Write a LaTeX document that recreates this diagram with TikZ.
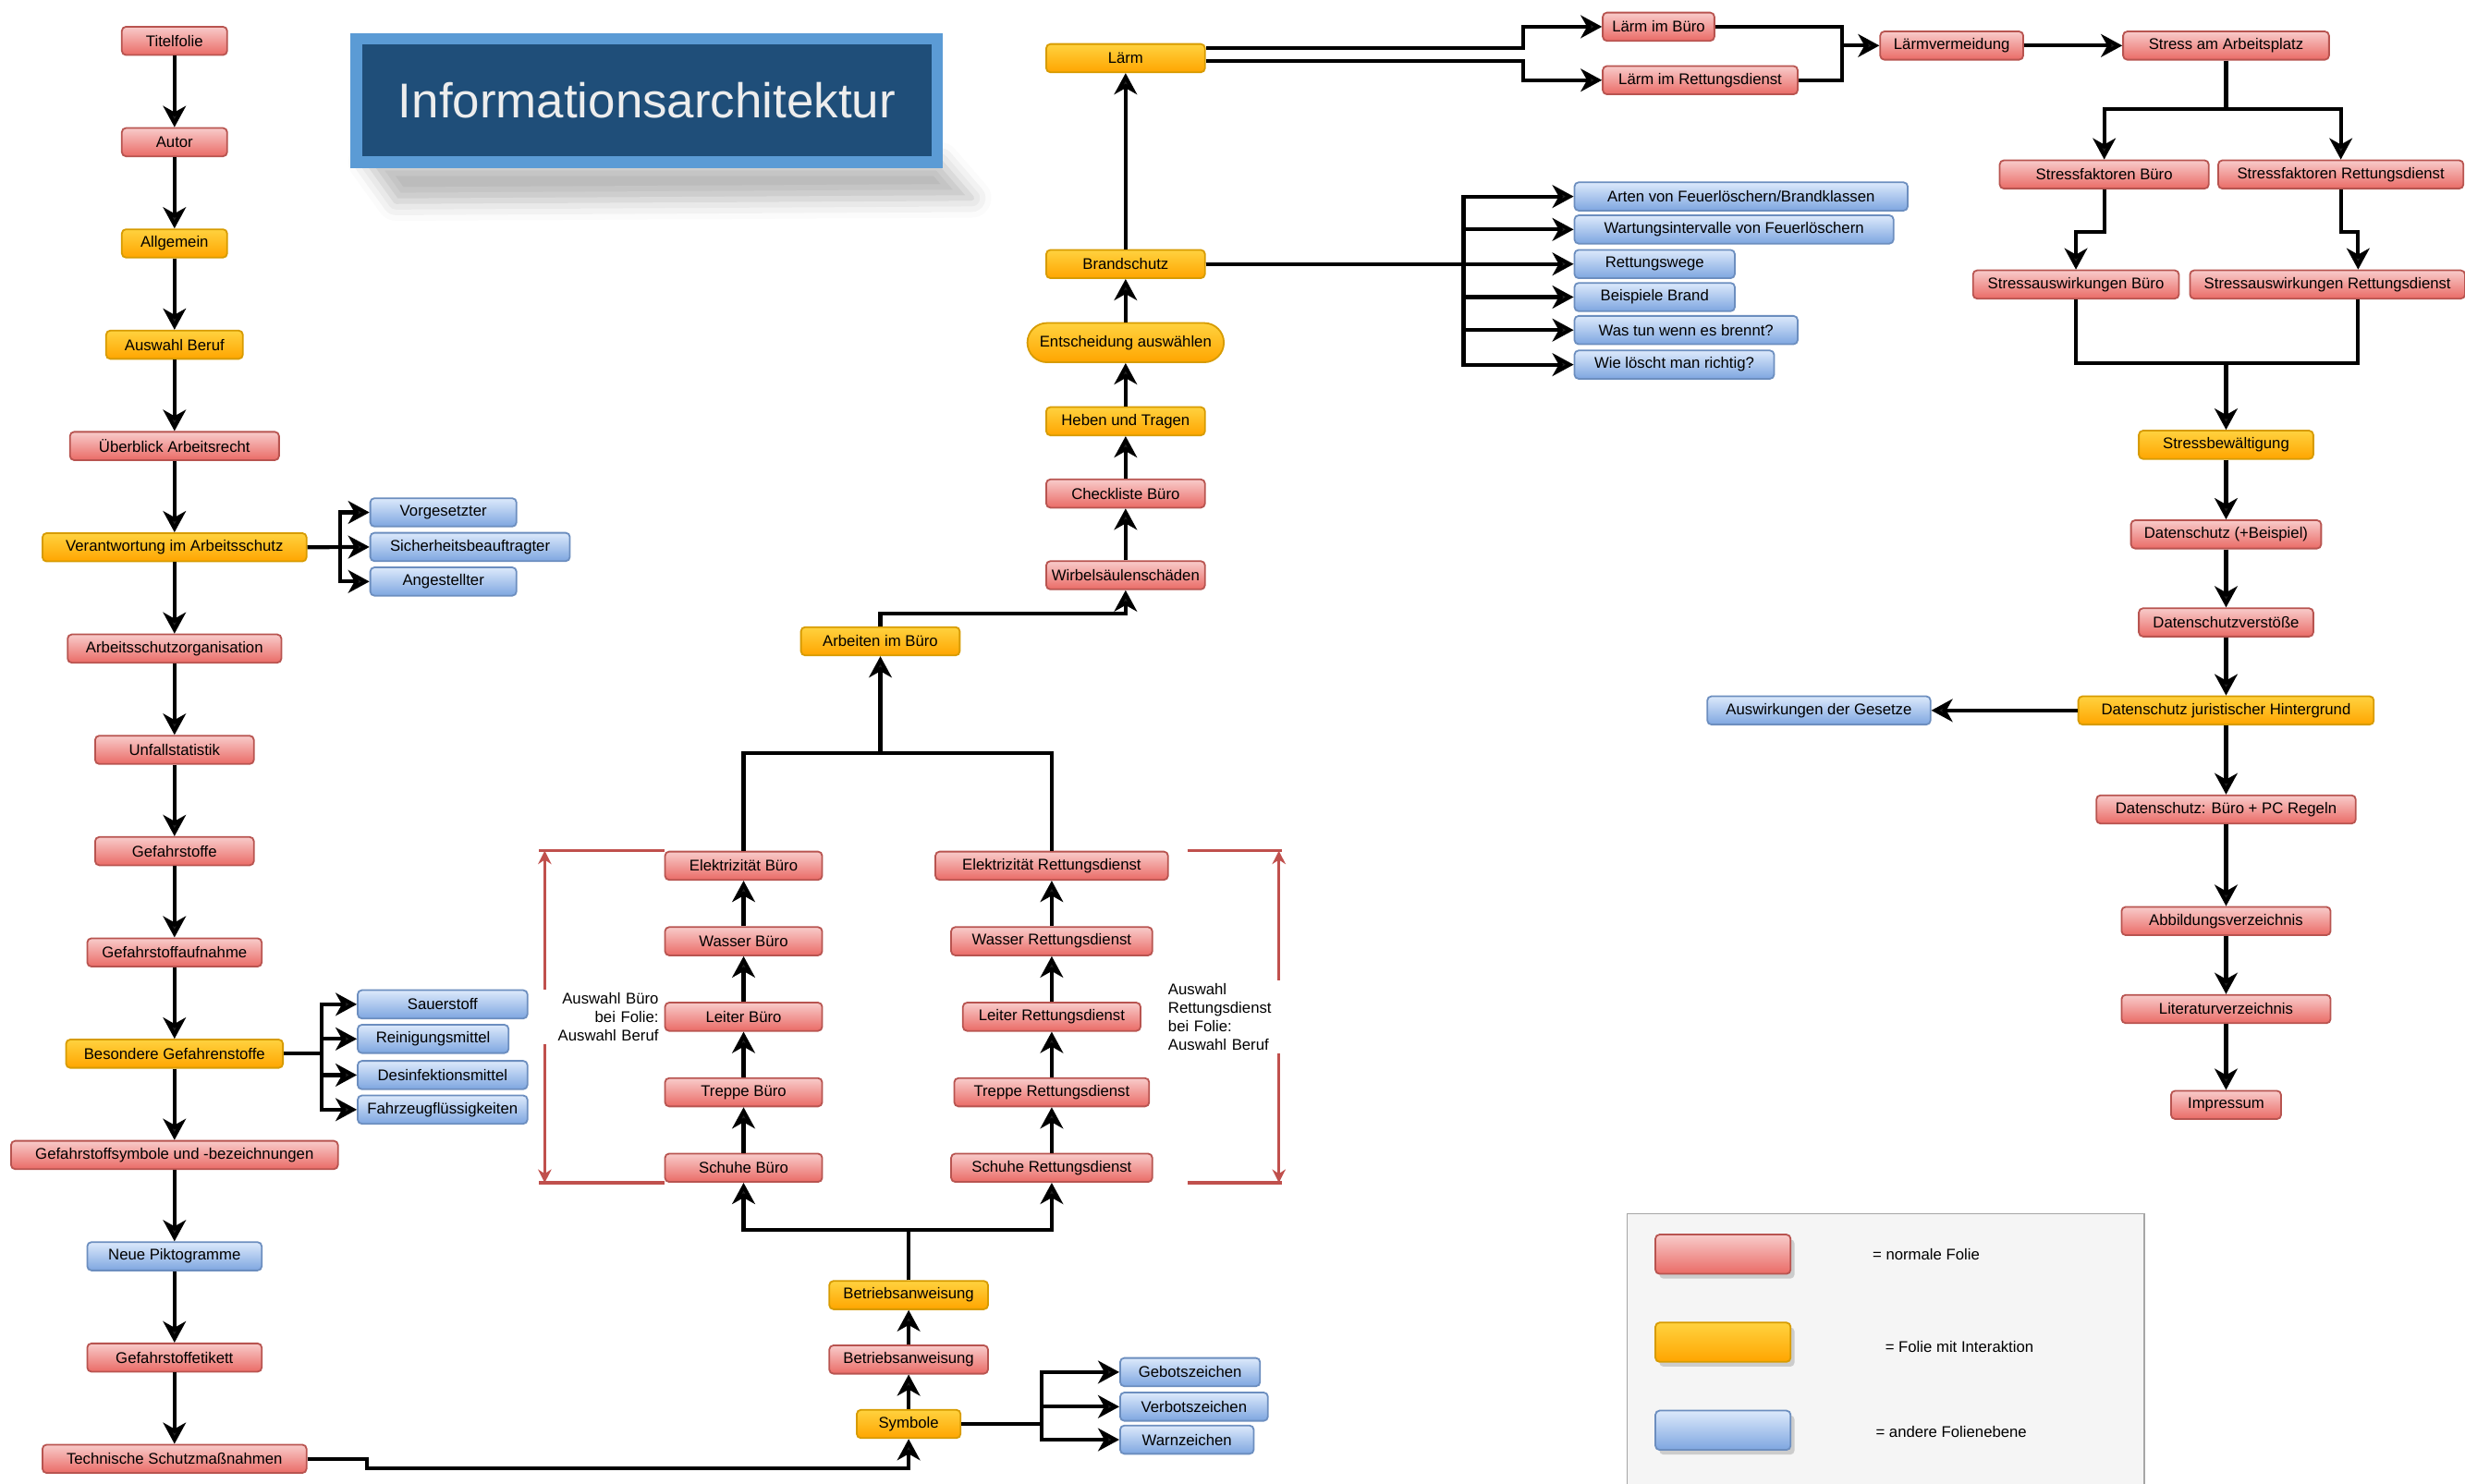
\documentclass[tikz,border=0pt]{standalone}
\usepackage{fontspec}
\setmainfont{Liberation Sans}
\usetikzlibrary{arrows.meta, positioning, shadows, shadows.blur}

\definecolor{rotrand}{HTML}{B85450}
\definecolor{rothell}{HTML}{F8CBCA}
\definecolor{rotdunkel}{HTML}{EA6B66}
\definecolor{gelbrand}{HTML}{D79B00}
\definecolor{gelbhell}{HTML}{FFD23F}
\definecolor{gelbdunkel}{HTML}{FFA500}
\definecolor{blaurand}{HTML}{6C8EBF}
\definecolor{blauhell}{HTML}{DCE9FB}
\definecolor{blaudunkel}{HTML}{7EA6E0}
\definecolor{klammerrot}{HTML}{C0504D}
\definecolor{titelrand}{HTML}{5B9BD5}
\definecolor{titelblau}{HTML}{1F4E79}

\tikzset{
  kasten/.style={rounded corners=1.5pt, minimum height=0.36cm, inner sep=0.5pt, line width=0.6pt, text=black},
  folie/.style={kasten, draw=rotrand, top color=rothell, bottom color=rotdunkel},
  interaktion/.style={kasten, draw=gelbrand, top color=gelbhell, bottom color=gelbdunkel},
  ebene/.style={kasten, draw=blaurand, top color=blauhell, bottom color=blaudunkel},
  pfeil/.style={line width=1.4pt, -{Stealth[length=0.27cm, width=0.29cm, inset=0.08cm]}},
  linie/.style={line width=1.4pt},
  klammer/.style={draw=klammerrot, line width=1.1pt},
  notiz/.style={fill=white, inner sep=1pt}
}

\begin{document}
\begin{tikzpicture}[x=0.02cm, y=-0.02cm, font=\fontsize{5.6}{6.8}\selectfont]
  \useasboundingbox (0,0) rectangle (1568,944);
  % Titel
  \path[blur shadow={shadow xshift=0pt, shadow yshift=0pt, shadow blur radius=0.25cm, shadow opacity=28}]
    (234,103) -- (598,103) -- (618,126) -- (252,128) -- cycle;
  \node[draw=titelrand,
    line width=0.15cm,
    fill=titelblau,
    minimum width=7.39cm,
    minimum height=1.57cm,
    text=white!93!black,
    font=\fontsize{17.7}{20}\selectfont] (titel) at (411.5,64) {Informationsarchitektur};

  % Linke Spalte
  \node[folie, minimum width=1.34cm] (titelf) at (111,26) {Titelfolie};
  \node[folie, below=0.908cm of titelf, minimum width=1.34cm] (autor) {Autor};
  \node[interaktion, below=0.908cm of autor, minimum width=1.34cm] (allg) {Allgemein};
  \node[interaktion, below=0.908cm of allg, minimum width=1.74cm] (beruf) {Auswahl Beruf};
  \node[folie, below=0.908cm of beruf, minimum width=2.66cm] (ueberbl) {Überblick Arbeitsrecht};
  \node[interaktion, below=0.908cm of ueberbl, minimum width=3.36cm] (verantw) {Verantwortung im Arbeitsschutz};
  \node[folie, below=0.908cm of verantw, minimum width=2.72cm] (organis) {Arbeitsschutzorganisation};
  \node[folie, below=0.908cm of organis, minimum width=2.02cm] (unfall) {Unfallstatistik};
  \node[folie, below=0.908cm of unfall, minimum width=2.02cm] (gefstoffe) {Gefahrstoffe};
  \node[folie, below=0.908cm of gefstoffe, minimum width=2.22cm] (aufnahme) {Gefahrstoffaufnahme};
  \node[interaktion, below=0.908cm of aufnahme, minimum width=2.76cm] (besond) {Besondere Gefahrenstoffe};
  \node[folie, below=0.908cm of besond, minimum width=4.16cm] (symbbez) {Gefahrstoffsymbole und -bezeichnungen};
  \node[ebene, below=0.908cm of symbbez, minimum width=2.22cm] (pikto) {Neue Piktogramme};
  \node[folie, below=0.908cm of pikto, minimum width=2.22cm] (etikett) {Gefahrstoffetikett};
  \node[folie, below=0.908cm of etikett, minimum width=3.36cm] (technik) {Technische Schutzmaßnahmen};

  \node[ebene, anchor=west, minimum width=1.86cm] (vorges) at (235,326) {Vorgesetzter};
  \node[ebene, anchor=west, minimum width=2.54cm] (sicher) at (235,348) {Sicherheitsbeauftragter};
  \node[ebene, anchor=west, minimum width=1.86cm] (angest) at (235,370) {Angestellter};

  \node[ebene, anchor=west, minimum width=2.16cm] (sauer) at (227,639) {Sauerstoff};
  \node[ebene, anchor=west, minimum width=1.92cm] (reinig) at (227,661) {Reinigungsmittel};
  \node[ebene, anchor=west, minimum width=2.16cm] (desinf) at (227,684) {Desinfektionsmittel};
  \node[ebene, anchor=west, minimum width=2.16cm] (fahrz) at (227,706) {Fahrzeugflüssigkeiten};

  % Mitte unten
  \node[interaktion, minimum width=1.32cm] (symbole) at (578,906) {Symbole};
  \node[folie, minimum width=2.02cm] (betrieb1) at (578,865) {Betriebsanweisung};
  \node[interaktion, minimum width=2.02cm] (betrieb2) at (578,824) {Betriebsanweisung};
  \node[ebene, anchor=west, minimum width=1.78cm] (geboten) at (712,873) {Gebotszeichen};
  \node[ebene, anchor=west, minimum width=1.88cm] (verboten) at (712,895) {Verbotszeichen};
  \node[ebene, anchor=west, minimum width=1.70cm] (warn) at (712,916) {Warnzeichen};

  \node[folie, minimum width=2cm] (schuheb) at (473,743) {Schuhe Büro};
  \node[folie, above=0.58cm of schuheb, minimum width=2cm] (treppeb) {Treppe Büro};
  \node[folie, above=0.58cm of treppeb, minimum width=2cm] (leiterb) {Leiter Büro};
  \node[folie, above=0.58cm of leiterb, minimum width=2cm] (wasserb) {Wasser Büro};
  \node[folie, above=0.58cm of wasserb, minimum width=2cm] (elekb) {Elektrizität Büro};

  \node[folie, minimum width=2.56cm] (schuher) at (669,743) {Schuhe Rettungsdienst};
  \node[folie, above=0.58cm of schuher, minimum width=2.48cm] (treppr) {Treppe Rettungsdienst};
  \node[folie, above=0.58cm of treppr, minimum width=2.26cm] (leiterr) {Leiter Rettungsdienst};
  \node[folie, above=0.58cm of leiterr, minimum width=2.56cm] (wasserr) {Wasser Rettungsdienst};
  \node[folie, above=0.58cm of wasserr, minimum width=2.96cm] (elekr) {Elektrizität Rettungsdienst};

  % Mitte oben
  \node[interaktion, minimum width=2.02cm] (arbeiten) at (560,408) {Arbeiten im Büro};
  \node[folie, minimum width=2.02cm] (wirbel) at (716,366) {Wirbelsäulenschäden};
  \node[folie, minimum width=2.02cm] (check) at (716,314) {Checkliste Büro};
  \node[interaktion, minimum width=2.02cm] (heben) at (716,268) {Heben und Tragen};
  \node[interaktion, minimum width=2.5cm, minimum height=0.5cm, rounded corners=0.25cm] (entsch) at (716,218) {Entscheidung auswählen};
  \node[interaktion, minimum width=2.02cm] (brand) at (716,168) {Brandschutz};
  \node[interaktion, minimum width=2.02cm] (laerm) at (716,37) {Lärm};

  \node[ebene, anchor=west, minimum width=4.24cm] (arten) at (1001,125) {Arten von Feuerlöschern/Brandklassen};
  \node[ebene, anchor=west, minimum width=4.06cm] (wartung) at (1001,146) {Wartungsintervalle von Feuerlöschern};
  \node[ebene, anchor=west, minimum width=2.04cm] (wege) at (1001,168) {Rettungswege};
  \node[ebene, anchor=west, minimum width=2.04cm] (beisp) at (1001,189) {Beispiele Brand};
  \node[ebene, anchor=west, minimum width=2.84cm] (wastun) at (1001,210) {Was tun wenn es brennt?};
  \node[ebene, anchor=west, minimum width=2.54cm] (loeschen) at (1001,232) {Wie löscht man richtig?};

  % Rechte Seite
  \node[folie, anchor=west, minimum width=1.42cm] (lbuero) at (1019,17) {Lärm im Büro};
  \node[folie, anchor=west, minimum width=2.48cm] (lrett) at (1019,51) {Lärm im Rettungsdienst};
  \node[folie, minimum width=1.82cm] (lverm) at (1241.5,29) {Lärmvermeidung};
  \node[folie, minimum width=2.62cm] (stress) at (1416,29) {Stress am Arbeitsplatz};
  \node[folie, minimum width=2.66cm] (sfb) at (1338.5,111) {Stressfaktoren Büro};
  \node[folie, minimum width=3.12cm] (sfr) at (1489,111) {Stressfaktoren Rettungsdienst};
  \node[folie, minimum width=2.62cm] (sab) at (1320.5,181) {Stressauswirkungen Büro};
  \node[folie, minimum width=3.5cm] (sar) at (1480.5,181) {Stressauswirkungen Rettungsdienst};

  \node[interaktion, minimum width=2.22cm] (bewaelt) at (1416,283) {Stressbewältigung};
  \node[folie, minimum width=2.42cm] (dsbsp) at (1416,340) {Datenschutz (+Beispiel)};
  \node[folie, minimum width=2.22cm] (dsverst) at (1416,396) {Datenschutzverstöße};
  \node[interaktion, minimum width=3.76cm] (dsjur) at (1416,452) {Datenschutz juristischer Hintergrund};
  \node[ebene, minimum width=2.84cm] (gesetze) at (1157,452) {Auswirkungen der Gesetze};
  \node[folie, minimum width=3.3cm] (dsregeln) at (1416,515) {Datenschutz: Büro + PC Regeln};
  \node[folie, minimum width=2.66cm] (abb) at (1416,586) {Abbildungsverzeichnis};
  \node[folie, minimum width=2.66cm] (lit) at (1416,642) {Literaturverzeichnis};
  \node[folie, minimum width=1.4cm] (impr) at (1416,703) {Impressum};

  % Legende
  \draw[draw=gray!70, fill=gray!8] (1035,944) |- (1364,772) -- (1364,944);
  \node[folie, minimum width=1.72cm, minimum height=0.5cm, drop shadow={shadow xshift=0.05cm, shadow yshift=-0.06cm, opacity=0.35}] (musterrot) at (1096,798) {};
  \node[interaktion, minimum width=1.72cm, minimum height=0.5cm, drop shadow={shadow xshift=0.05cm, shadow yshift=-0.06cm, opacity=0.35}] (mustergelb) at (1096,854) {};
  \node[ebene, minimum width=1.72cm, minimum height=0.5cm, drop shadow={shadow xshift=0.05cm, shadow yshift=-0.06cm, opacity=0.35}] (musterblau) at (1096,910) {};
  \node[anchor=west] (textrot) at (1185,798) {= normale Folie};
  \node[anchor=west] (textgelb) at (1193,857) {= Folie mit Interaktion};
  \node[anchor=west] (textblau) at (1187,911) {= andere Folienebene};

  % Pfeile
  \draw[pfeil]
    (titelf) edge (autor)
    (autor) edge (allg)
    (allg) edge (beruf)
    (beruf) edge (ueberbl)
    (ueberbl) edge (verantw)
    (verantw) edge (organis)
    (organis) edge (unfall)
    (unfall) edge (gefstoffe)
    (gefstoffe) edge (aufnahme)
    (aufnahme) edge (besond)
    (besond) edge (symbbez)
    (symbbez) edge (pikto)
    (pikto) edge (etikett)
    (etikett) edge (technik);
  \draw[pfeil] (verantw.east) -- ++(21,0) |- (vorges.west);
  \draw[pfeil] (verantw.east) -- (sicher.west);
  \draw[pfeil] (verantw.east) -- ++(21,0) |- (angest.west);
  \draw[pfeil] (besond.east) -- ++(24,0) |- (sauer.west);
  \draw[pfeil] (besond.east) -- ++(24,0) |- (reinig.west);
  \draw[pfeil] (besond.east) -- ++(24,0) |- (desinf.west);
  \draw[pfeil] (besond.east) -- ++(24,0) |- (fahrz.west);
  \draw[pfeil] (technik.east) -- ++(38,0) -- ++(0,6) -| (symbole.south);

  \draw[pfeil]
    (symbole) edge (betrieb1)
    (betrieb1) edge (betrieb2);
  \draw[pfeil] (symbole.east) -- ++(51,0) |- (geboten.west);
  \draw[pfeil] (symbole.east) -- ++(51,0) |- (verboten.west);
  \draw[pfeil] (symbole.east) -- ++(51,0) |- (warn.west);
  \draw[pfeil] (betrieb2.north) -- ++(0,-32) -| (schuheb.south);
  \draw[pfeil] (betrieb2.north) -- ++(0,-32) -| (schuher.south);
  \draw[pfeil]
    (schuheb) edge (treppeb)
    (treppeb) edge (leiterb)
    (leiterb) edge (wasserb)
    (wasserb) edge (elekb)
    (schuher) edge (treppr)
    (treppr) edge (leiterr)
    (leiterr) edge (wasserr)
    (wasserr) edge (elekr);
  \coordinate (gabel) at (560,479);
  \draw[linie] (elekb.north) |- (gabel) -| (elekr.north);
  \draw[pfeil] (gabel) -- (arbeiten.south);
  \draw[pfeil] (arbeiten.north) -- ++(0,-8) -| (wirbel.south);

  \draw[pfeil]
    (wirbel) edge (check)
    (check) edge (heben)
    (heben) edge (entsch)
    (entsch) edge (brand)
    (brand) edge (laerm);
  \draw[pfeil] (brand.east) -- ++(164,0) |- (arten.west);
  \draw[pfeil] (brand.east) -- ++(164,0) |- (wartung.west);
  \draw[pfeil] (brand.east) -- (wege.west);
  \draw[pfeil] (brand.east) -- ++(164,0) |- (beisp.west);
  \draw[pfeil] (brand.east) -- ++(164,0) |- (wastun.west);
  \draw[pfeil] (brand.east) -- ++(164,0) |- (loeschen.west);

  \draw[pfeil] ([yshift=0.13cm]laerm.east) -| ([xshift=-1cm]lbuero.west) -- (lbuero.west);
  \draw[pfeil] ([yshift=-0.04cm]laerm.east) -| ([xshift=-1cm]lrett.west) -- (lrett.west);
  \draw[linie] (lbuero.east) -| ([xshift=-0.48cm]lverm.west) |- (lrett.east);
  \draw[pfeil] ([xshift=-0.48cm]lverm.west) -- (lverm.west);
  \draw[pfeil] (lverm) edge (stress);
  \draw[pfeil] (stress.south) -- ++(0,31) -| (sfb.north);
  \draw[pfeil] (stress.south) -- ++(0,31) -| (sfr.north);
  \draw[pfeil] (sfb.south) -- ++(0,27) -| (sab.north);
  \draw[pfeil] (sfr.south) -- ++(0,27) -| ([xshift=0.39cm]sar.north);
  \coordinate (sammel) at (1416,231);
  \draw[linie] (sab.south) |- (sammel) -| ([xshift=0.39cm]sar.south);
  \draw[pfeil] (sammel) -- (bewaelt.north);
  \draw[pfeil]
    (bewaelt) edge (dsbsp)
    (dsbsp) edge (dsverst)
    (dsverst) edge (dsjur)
    (dsjur) edge (gesetze)
    (dsjur) edge (dsregeln)
    (dsregeln) edge (abb)
    (abb) edge (lit)
    (lit) edge (impr);

  % Klammern
  \coordinate (kl1) at ([xshift=-1.52cm]elekb.north west);
  \coordinate (kl2) at (kl1 |- schuheb.south);
  \coordinate (kr1) at ([xshift=0.24cm]elekr.north east);
  \coordinate (kr2) at (kr1 |- schuher.south);
  \draw[klammer] (elekb.north west) -- ([xshift=-0.08cm]kl1);
  \draw[klammer] (schuheb.south west) -- ([xshift=-0.08cm]kl2);
  \draw[klammer, {Stealth[length=0.17cm, width=0.17cm]}-{Stealth[length=0.17cm, width=0.17cm]}] (kl1) -- (kl2);
  \draw[klammer] (kr1) -- ++(60,0);
  \draw[klammer] (kr2) -- ++(60,0);
  \draw[klammer, {Stealth[length=0.17cm, width=0.17cm]}-{Stealth[length=0.17cm, width=0.17cm]}] ([xshift=1.16cm]kr1) -- ([xshift=1.16cm]kr2);
  \node[notiz, anchor=east, text width=1.5cm, align=right] (notizb) at (421,647) {Auswahl Büro\\bei Folie:\\Auswahl Beruf};
  \node[notiz, anchor=west, text width=1.55cm, align=left] (notizr) at (741,647) {Auswahl\\Rettungsdienst\\bei Folie:\\Auswahl Beruf};
\end{tikzpicture}
\end{document}
